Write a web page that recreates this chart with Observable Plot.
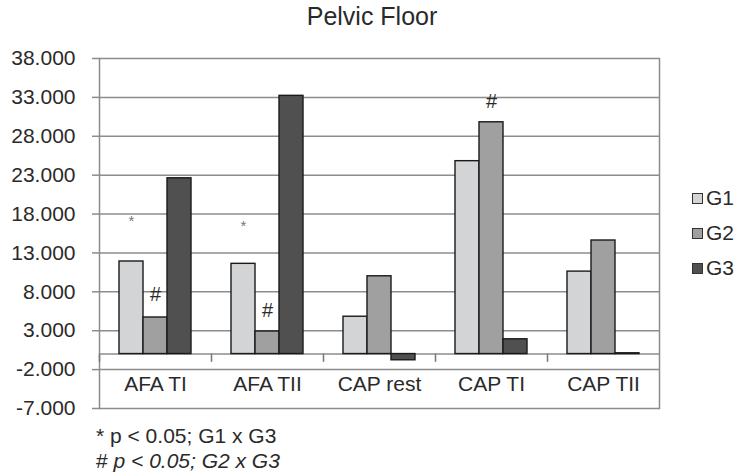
<!DOCTYPE html>
<html>
<head>
<meta charset="utf-8">
<script src="https://cdn.jsdelivr.net/npm/d3@7"></script>
<script src="https://cdn.jsdelivr.net/npm/@observablehq/plot@0.6"></script>
<style>
  html, body { margin: 0; padding: 0; background: #fff; }
  #wrap { position: relative; width: 737px; height: 476px; font-family: "Liberation Sans", Arial, sans-serif; color: #2a2a2a; }
  #chart { position: absolute; left: 0; top: 0; }
  #title { position: absolute; left: 0; width: 744px; top: 2px; text-align: center; font-size: 25px; line-height: 28px; }
  .leg { position: absolute; left: 692px; font-size: 21px; line-height: 24px; display: flex; align-items: center; }
  .sw { width: 11px; height: 11px; border: 1px solid #333; margin-right: 3px; box-sizing: border-box; }
  .note { position: absolute; left: 96px; font-size: 21px; line-height: 24px; white-space: nowrap; }
</style>
</head>
<body>
<div id="wrap">
  <div id="chart"></div>
  <div id="title"></div>
  <div id="legend"></div>
  <div id="notes"></div>
</div>
<script>
const title = "Pelvic Floor";
const categories = ["AFA TI", "AFA TII", "CAP rest", "CAP TI", "CAP TII"];
const groups = ["G1", "G2", "G3"];
const g1 = [11.9, 11.6, 4.8, 24.8, 10.6];
const g2 = [4.7, 2.9, 10.0, 29.8, 14.6];
const g3 = [22.6, 33.2, -0.8, 1.9, 0.1];
const yTicks = [-7, -2, 3, 8, 13, 18, 23, 28, 33, 38];
const colors = ["#d3d4d5", "#a0a0a0", "#505050"];
const markCategory = ["AFA TI", "AFA TII", "AFA TI", "AFA TII", "CAP TI"];
const markGroup = ["G1", "G1", "G2", "G2", "G2"];
const markY = [17.6, 16.9, 7.6, 5.6, 32.5];
const markLabel = ["*", "*", "#", "#", "#"];
const footnotes = ["* p < 0.05; G1 x G3", "# p < 0.05; G2 x G3"];

const seriesValues = [g1, g2, g3];
const data = categories.flatMap((c, i) => groups.map((g, j) => ({category: c, group: g, value: seriesValues[j][i]})));
const notes = markLabel.map((l, i) => ({category: markCategory[i], group: markGroup[i], y: markY[i], label: l}));

const gridColor = "#8c8c8c";
const W = 737, H = 476, mL = 97, mR = 77, mT = 58, mB = 68;
const yDomain = [-7, 38];
const plotH = H - mT - mB;
const zeroPx = plotH * (yDomain[1] - 0) / (yDomain[1] - yDomain[0]);
const tickLen = 7;

const plot = Plot.plot({
  width: W,
  height: H,
  marginLeft: mL,
  marginRight: mR,
  marginTop: mT,
  marginBottom: mB,
  style: {fontFamily: "Liberation Sans, Arial, sans-serif", fontSize: "21px", color: "#2a2a2a", background: "transparent"},
  fx: {domain: categories, padding: 0, label: null},
  x: {domain: groups, paddingInner: 0, paddingOuter: 0.75, axis: null},
  y: {domain: yDomain, label: null},
  color: {domain: groups, range: colors},
  marks: [
    Plot.gridY(yTicks, {stroke: gridColor, strokeOpacity: 1, strokeWidth: 1.5}),
    Plot.frame({anchor: "left", facetAnchor: "left", stroke: gridColor, strokeWidth: 1.5}),
    Plot.frame({anchor: "right", facetAnchor: "right", stroke: gridColor, strokeWidth: 1.5}),
    // small ticks on the zero line at each category boundary
    Plot.frame({anchor: "left", stroke: "#777", strokeWidth: 1.5, insetTop: zeroPx, insetBottom: plotH - zeroPx - tickLen}),
    Plot.ruleY([0], {stroke: gridColor, strokeWidth: 1.5}),
    Plot.barY(data, {fx: "category", x: "group", y: "value", fill: "group", stroke: "#1a1a1a", strokeWidth: 1.4}),
    Plot.axisY(yTicks, {tickFormat: d => d.toFixed(3), tickSize: 7, tickPadding: 17, stroke: gridColor, strokeWidth: 1.5, fontSize: 21, label: null}),
    Plot.axisFx({anchor: "bottom", tickSize: 0, tickPadding: 0, dy: -32, fontSize: 21, label: null}),
    Plot.text(notes.filter(d => d.label === "*"), {fx: "category", x: "group", y: "y", text: "label", fill: "#777", fontSize: 15, dy: 4}),
    Plot.text(notes.filter(d => d.label === "#"), {fx: "category", x: "group", y: "y", text: "label", fill: "#2a2a2a", fontSize: 20})
  ]
});
document.getElementById("chart").appendChild(plot);

document.getElementById("title").textContent = title;

const legend = document.getElementById("legend");
groups.forEach((g, i) => {
  const row = document.createElement("div");
  row.className = "leg";
  row.style.top = (186 + i * 35) + "px";
  const sw = document.createElement("span");
  sw.className = "sw";
  sw.style.background = colors[i];
  const t = document.createElement("span");
  t.textContent = g;
  row.appendChild(sw);
  row.appendChild(t);
  legend.appendChild(row);
});

const notesDiv = document.getElementById("notes");
footnotes.forEach((f, i) => {
  const n = document.createElement("div");
  n.className = "note";
  n.style.top = (424 + i * 25) + "px";
  if (i === 1) {
    n.innerHTML = "# <i>" + f.slice(2) + "</i>";
  } else {
    n.textContent = f;
  }
  notesDiv.appendChild(n);
});
</script>
</body>
</html>
